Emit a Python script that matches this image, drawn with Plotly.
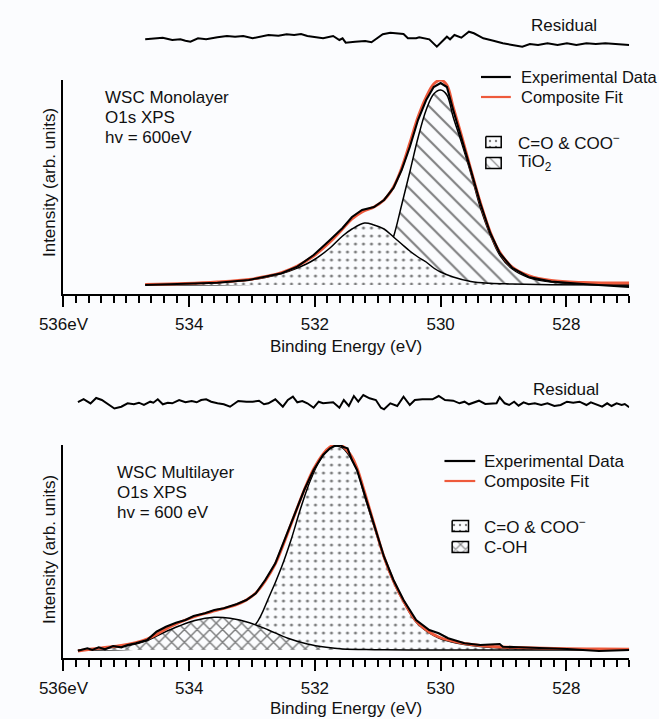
import plotly.graph_objects as go

W, H = 659, 719
BG = "#fbfcfe"
RED = "#ee5a3c"
FONT = "Liberation Sans, Arial, sans-serif"

# ---------------- data: top panel (WSC monolayer) ----------------
top_ev = [534.70, 534.06, 533.55, 533.05, 532.79, 532.53, 532.28, 532.02, 531.76, 531.56,
          531.41, 531.25, 531.06, 530.90, 530.75, 530.62, 530.49, 530.36, 530.23, 530.11,
          530.00, 529.90, 529.80, 529.67, 529.52, 529.37, 529.21, 529.06, 528.86, 528.60,
          528.24, 527.73, 527.00]
top_exp = [0, 1, 2.3, 5, 8.3, 11.7, 18.3, 30, 45, 57,
           68, 75, 78, 85, 97, 115, 138, 165, 185, 198,
           202, 198, 175, 148, 115, 82, 52, 32, 17, 8,
           3.5, 1, -2]
top_fit = [0.5, 1.5, 3, 5.5, 8.5, 12.5, 19, 29, 43, 56,
           66, 73, 78, 85, 98, 117, 142, 168, 188, 201,
           205, 200, 178, 150, 116, 83, 53, 33, 18, 9.5,
           4.5, 2.5, 2]

top_co_ev = [534.70, 534.06, 533.55, 533.05, 532.79, 532.53, 532.28, 532.02, 531.76, 531.56,
             531.41, 531.21, 531.06, 530.90, 530.75, 530.62, 530.49, 530.36, 530.23, 530.11,
             530.00, 529.80, 529.52, 529.21, 528.86, 528.24, 527.00]
top_co = [0.5, 1.2, 2.5, 5, 7.5, 11.5, 17, 25, 37, 49,
          56, 62, 60, 56, 48, 41, 34, 28, 23, 17,
          13, 8, 3.5, 1.7, 1, 0.3, 0]

top_ti_ev = [534.70, 533.55, 532.53, 532.02, 531.56, 531.25, 530.90, 530.75, 530.62, 530.49,
             530.36, 530.23, 530.11, 530.00, 529.90, 529.80, 529.67, 529.52, 529.37, 529.21,
             529.06, 528.86, 528.60, 528.24, 527.73, 527.00]
top_ti = [0, 0.3, 1, 2, 4, 8, 22, 48, 80, 113,
          147, 175, 191, 195, 190, 168, 143, 112, 78, 50,
          30, 16, 7.5, 3, 1, 0]

top_res_ev = [534.70, 534.57, 534.42, 534.27, 534.14, 534.06, 533.98, 533.86, 533.73, 533.55,
              533.40, 533.27, 533.14, 532.99, 532.89, 532.74, 532.58, 532.45, 532.33, 532.22,
              532.12, 532.02, 531.87, 531.71, 531.61, 531.56, 531.51, 531.36, 531.20, 531.10,
              531.00, 530.92, 530.80, 530.64, 530.59, 530.52, 530.39, 530.34, 530.18, 530.06,
              529.98, 529.90, 529.85, 529.78, 529.67, 529.55, 529.47, 529.32, 529.16, 529.01,
              528.86, 528.70, 528.58, 528.45, 528.30, 528.14, 527.99, 527.84, 527.68, 527.53,
              527.38, 527.22, 527.07, 527.00]
top_res = [0.7, 1.7, 2.3, 0, 0.7, -0.7, -1.7, 1.7, 0.7, 2.7,
           4, 3.3, 4, 1.7, 3.3, 5, 4.3, 5.7, 5, 6,
           4, 3.3, 1.7, 4, 0, 1.7, -2.7, -1.7, -1, -2.3,
           1.7, 5.7, 7.3, 6.7, 6, 1.7, 1.7, 2.7, 0.7, -6.7,
           -1.7, 3.3, 0.7, 5, 2.3, 8.3, 6.7, 1.7, -0.7, -3.3,
           -5, -6.7, -4, -5, -3.3, -5, -3.3, -5, -3.3, -4,
           -3.3, -4.3, -5, -5]

# ---------------- data: bottom panel (WSC multilayer) ----------------
bot_exp_ev = [535.77, 535.62, 535.54, 535.44, 535.34, 535.21, 535.08, 534.98, 534.85, 534.67,
              534.52, 534.37, 534.21, 534.06, 533.93, 533.75, 533.60, 533.45, 533.24, 533.09,
              532.94, 532.79, 532.63, 532.48, 532.33, 532.17, 532.02, 531.87, 531.76, 531.69,
              531.59, 531.56, 531.48, 531.41, 531.33, 531.20, 531.05, 530.90, 530.75, 530.59,
              530.39, 530.18, 530.03, 529.88, 529.62, 529.37, 529.06, 529.01, 528.76, 528.35,
              527.99, 527.48, 527.00]
bot_exp = [-0.7, 1.7, 0, 2.7, 0.7, 4, 2.7, 5, 6.7, 10,
           18.3, 23.3, 27.3, 30, 34, 36.7, 40, 41.7, 46, 50,
           56.7, 70, 86.7, 110, 133.3, 160, 180, 195, 201.7, 204,
           205, 203.3, 201.7, 190, 180, 153.3, 123.3, 93.3, 70, 50,
           30, 20, 16.7, 11.7, 6.7, 5, 6, 3.3, 2.7, 1.7,
           1, -1, 0]

bot_fit_ev = [535.77, 535.54, 535.34, 535.08, 534.85, 534.67, 534.52, 534.37, 534.21, 534.06,
              533.93, 533.75, 533.60, 533.45, 533.24, 533.09, 532.94, 532.79, 532.63, 532.48,
              532.33, 532.17, 532.02, 531.87, 531.76, 531.65, 531.56, 531.41, 531.33, 531.20,
              531.05, 530.90, 530.75, 530.59, 530.39, 530.18, 530.03, 529.88, 529.62, 529.37,
              529.01, 528.76, 528.35, 527.99, 527.48, 527.00]
bot_fit = [-1, 1, 2.5, 4.5, 7.5, 11, 15.5, 21, 26, 30,
           33, 36.5, 39, 41.5, 45.5, 50, 57, 69, 86, 109,
           134, 160, 181, 196, 203, 206, 204, 193, 182, 156,
           124, 93, 69, 49, 29, 18, 13, 10, 6.5, 4.5,
           3, 2.5, 1.8, 1.3, 1, 0.8]

bot_co_ev = [535.77, 535.00, 534.50, 534.00, 533.50, 533.20, 532.94, 532.73, 532.53, 532.38,
             532.22, 532.07, 531.92, 531.76, 531.66, 531.56, 531.41, 531.33, 531.20, 531.05,
             530.90, 530.75, 530.59, 530.39, 530.18, 530.03, 529.88, 529.62, 529.37, 529.01,
             528.35, 527.00]
bot_co = [0, 0.5, 1.5, 3, 7, 14, 26, 53, 83, 110,
          143, 170, 190, 201.7, 204, 202, 190, 180, 152, 122,
          92, 68, 48, 28, 17, 12, 9, 5.5, 3.5, 2,
          1, 0.5]

bot_coh_ev = [535.77, 535.34, 534.93, 534.67, 534.42, 534.16, 533.91, 533.60, 533.35, 533.04,
              532.74, 532.43, 532.12, 531.82, 531.56, 531.05, 530.50, 527.00]
bot_coh = [-0.7, 1.7, 5, 9.5, 17, 24, 29.5, 32.7, 31.7, 27.3,
           20, 11.7, 6, 2.7, 1, 0.3, 0, 0]

bot_res_ev = [535.77, 535.68, 535.57, 535.48, 535.39, 535.28, 535.19, 535.08, 534.98, 534.88,
              534.80, 534.72, 534.62, 534.57, 534.50, 534.42, 534.34, 534.27, 534.16, 534.06,
              533.96, 533.88, 533.81, 533.73, 533.65, 533.55, 533.45, 533.35, 533.22, 533.09,
              532.99, 532.89, 532.81, 532.74, 532.63, 532.51, 532.43, 532.35, 532.28, 532.20,
              532.12, 532.02, 531.94, 531.87, 531.71, 531.61, 531.54, 531.46, 531.38, 531.31,
              531.23, 531.13, 531.03, 530.95, 530.90, 530.80, 530.69, 530.59, 530.49, 530.41,
              530.29, 530.13, 530.03, 529.93, 529.80, 529.70, 529.62, 529.55, 529.44, 529.39,
              529.29, 529.19, 529.11, 529.06, 528.98, 528.91, 528.83, 528.76, 528.68, 528.60,
              528.50, 528.40, 528.30, 528.19, 528.09, 527.99, 527.89, 527.79, 527.68, 527.61,
              527.53, 527.43, 527.35, 527.28, 527.20, 527.12, 527.07, 527.00]
bot_res = [0.8, 3.8, -0.4, 5, 3, -1.3, -5.5, -3.7, -0.3, -1.3,
           0.3, -2, 1.3, 0.3, 3.7, -1.3, 0.3, -0.3, 3, 0.7,
           2, 0.7, 3, 3.7, 1.3, -0.3, -1.3, -3.7, 2, 1.3,
           1.3, 2.3, -1.3, -0.3, 3.7, -3.7, 3, 6.3, 0.7, 2,
           -0.3, -4.7, 1.3, -0.3, 0.7, -4.7, 3, -3, 7, 1.3,
           8, 4.7, 3, -4.7, -6.3, -0.3, -3, 6.3, -2, 3,
           3.7, 3.7, 7, 3, 2.3, -0.3, 1.3, -1.3, 1.3, 2.3,
           -1, -1, -0.3, 5.7, -0.3, -2, 1.3, -2.7, 0.7, -1.3,
           -0.3, -2, -0.3, -3, -2, 1.3, 0.3, 1.3, -2, 0.7,
           -1.3, -3.7, -0.3, -3, -0.3, -2, -1, -4.3]

tick_vals = [536, 534, 532, 530, 528]
tick_text = ["536eV", "534", "532", "530", "528"]

# ---------------- figure ----------------
fig = go.Figure()


def px(x):
    return x / W


def py(y):
    return 1 - y / H


def add(x, y, ax, **kw):
    fig.add_trace(go.Scatter(x=x, y=y, xaxis="x" + ax, yaxis="y" + ax,
                             showlegend=False, hoverinfo="skip", **kw))


DOTS = dict(shape=".", size=8, solidity=0.12, fgcolor="black", bgcolor=BG)
HATCH = dict(shape="\\", size=12, solidity=0.17, fgcolor="black", bgcolor=BG)
CROSS = dict(shape="x", size=9, solidity=0.3, fgcolor="black", bgcolor=BG)

# top panel
add(top_ti_ev, top_ti, "", mode="lines", line=dict(color="black", width=1.5, shape="spline"),
    fill="tozeroy", fillpattern=HATCH)
add(top_co_ev, top_co, "", mode="lines", line=dict(color="black", width=1.5, shape="spline"),
    fill="tozeroy", fillpattern=DOTS)
add(top_ev, top_fit, "", mode="lines", line=dict(color=RED, width=2.8, shape="spline"))
add(top_ev, top_exp, "", mode="lines", line=dict(color="black", width=2.1))
add(top_res_ev, top_res, "2", mode="lines", line=dict(color="black", width=2))

# bottom panel
add(bot_co_ev, bot_co, "3", mode="lines", line=dict(color="black", width=1.5, shape="spline"),
    fill="tozeroy", fillpattern=DOTS)
add(bot_coh_ev, bot_coh, "3", mode="lines", line=dict(color="black", width=1.5, shape="spline"),
    fill="tozeroy", fillpattern=CROSS)
add(bot_fit_ev, bot_fit, "3", mode="lines", line=dict(color=RED, width=2.8, shape="spline"))
add(bot_exp_ev, bot_exp, "3", mode="lines", line=dict(color="black", width=2.1))
add(bot_res_ev, bot_res, "4", mode="lines", line=dict(color="black", width=2))


# legend pattern boxes (pixel overlay axis 5)
def box(x0, x1, yc, pattern):
    h = 5.5
    add([x0, x1, x1, x0, x0], [yc - h, yc - h, yc + h, yc + h, yc - h], "5",
        mode="lines", line=dict(color="black", width=1.5), fill="toself", fillpattern=pattern)


box(479, 495, 142, dict(DOTS, size=6))
box(479, 495, 163, dict(HATCH, size=7))
box(444, 461, 526, dict(DOTS, size=6))
box(444, 461, 547, dict(CROSS, size=7))

XDOM = [px(40), px(628)]
common_x = dict(domain=XDOM, range=[536, 527], showgrid=False, zeroline=False)
main_x = dict(common_x, showline=True, linecolor="black", linewidth=2,
              ticks="outside", ticklen=11, tickwidth=1.6, tickcolor="black",
              tickmode="array", tickvals=tick_vals, ticktext=tick_text,
              tickfont=dict(family=FONT, size=17, color="#111"), ticklabelstandoff=3,
              minor=dict(tickmode="linear", tick0=527, dtick=0.2, ticks="outside",
                         ticklen=7, tickwidth=1.6, tickcolor="black"))
hidden_x = dict(common_x, visible=False)
main_y = dict(showline=True, linecolor="black", linewidth=2, ticks="", showticklabels=False,
              showgrid=False, zeroline=False)
hidden_y = dict(visible=False, showgrid=False, zeroline=False)

fig.update_layout(
    width=W, height=H, margin=dict(l=0, r=0, t=0, b=0),
    paper_bgcolor=BG, plot_bgcolor="rgba(0,0,0,0)",
    font=dict(family=FONT, size=17, color="#111"),
    showlegend=False,
    xaxis=dict(main_x, anchor="y"),
    yaxis=dict(main_y, domain=[py(294), py(80)], range=[-9, 205], anchor="x"),
    xaxis2=dict(hidden_x, anchor="y2"),
    yaxis2=dict(hidden_y, domain=[py(60), py(20)], range=[-20, 20], anchor="x2"),
    xaxis3=dict(main_x, anchor="y3"),
    yaxis3=dict(main_y, domain=[py(658), py(445)], range=[-8, 205], anchor="x3"),
    xaxis4=dict(hidden_x, anchor="y4"),
    yaxis4=dict(hidden_y, domain=[py(423), py(383)], range=[-20, 20], anchor="x4"),
    xaxis5=dict(domain=[0, 1], range=[0, W], visible=False, anchor="y5"),
    yaxis5=dict(domain=[0, 1], range=[H, 0], visible=False, anchor="x5"),
)

# legend line samples
for x0, x1, y, c in [(474, 505, 77, "black"), (474, 505, 97, RED),
                     (436, 468, 461, "black"), (436, 468, 481, RED)]:
    fig.add_shape(type="line", xref="paper", yref="paper", x0=px(x0), x1=px(x1),
                  y0=py(y), y1=py(y), line=dict(color=c, width=2.2))


def txt(x, y, s, anchor="left", angle=0, size=17):
    fig.add_annotation(x=px(x), y=py(y), xref="paper", yref="paper", text=s,
                       showarrow=False, xanchor=anchor, yanchor="middle", textangle=angle,
                       borderpad=0, font=dict(family=FONT, size=size, color="#111"))


# texts top
txt(560, 25, "Residual", "center")
txt(82, 97, "WSC Monolayer")
txt(82, 117, "O1s XPS")
txt(82, 137, "hv = 600eV")
txt(514, 77, "Experimental Data", size=16.5)
txt(514, 97, "Composite Fit", size=16.5)
txt(511, 142, "C=O &amp; COO<sup>−</sup>")
txt(511, 163, "TiO<sub>2</sub>")
txt(25, 183, "Intensity (arb. units)", "center", -90)
txt(334, 346, "Binding Energy (eV)", "center")

# texts bottom
txt(562, 390, "Residual", "center")
txt(95, 472, "WSC Multilayer")
txt(95, 492, "O1s XPS")
txt(95, 512, "hv = 600 eV")
txt(476, 461, "Experimental Data")
txt(476, 481, "Composite Fit")
txt(476, 526, "C=O &amp; COO<sup>−</sup>")
txt(476, 547, "C-OH")
txt(25, 550, "Intensity (arb. units)", "center", -90)
txt(334, 708, "Binding Energy (eV)", "center")

fig.write_html("out.html")
